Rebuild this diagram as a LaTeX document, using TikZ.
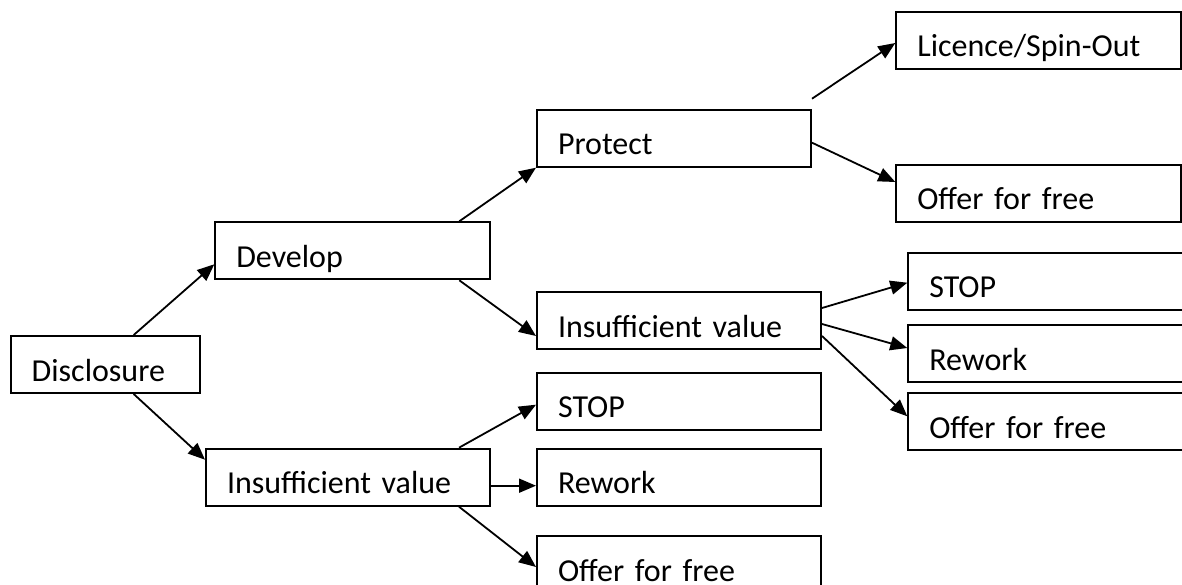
\documentclass[tikz,border=0pt]{standalone}
\usepackage{fontspec}
\setmainfont[WordSpace = 0.7]{Carlito}
\usetikzlibrary{arrows.meta}
\tikzset{box/.style = {draw, line width = 2pt, anchor = north west, align = left, inner xsep = 21pt, inner ysep = 0pt, text height = 45pt, text depth = 12pt, font = \fontsize{32}{38}\selectfont}}
\tikzset{arr/.style = {line width = 1.8pt, -{Triangle[length = 17pt, width = 14pt]}}}

\begin{document}
\begin{tikzpicture}[x = 1pt, y = -1pt]
      \clip (0, 0) rectangle (1182, 585);

      \node [box, text width = 147pt] (dis) at (9.7, 335) {Disclosure};
      \node [box, text width = 233pt] (dev) at (214.3, 221.3) {Develop};
      \node [box, text width = 242pt] (insB) at (205, 447.7) {Insufficient value};

      \node [box, text width = 232pt] (pro) at (536, 108.7) {Protect};
      \node [box, text width = 242pt] (insM) at (536, 291) {Insufficient value};
      \node [box, text width = 242pt] (stopB) at (536, 371.7) {STOP};
      \node [box, text width = 242pt] (rwB) at (536, 447.7) {Rework};
      \node [box, text width = 242pt] (offB) at (536, 535) {Offer for free};

      \node [box, text width = 243pt] (lic) at (895.3, 11) {Licence/Spin-Out};
      \node [box, text width = 243pt] (offT) at (895.3, 164) {Offer for free};
      \node [box, text width = 258pt] (stopR) at (907.3, 251.7) {STOP};
      \node [box, text width = 258pt] (rwR) at (907.3, 324) {Rework};
      \node [box, text width = 258pt] (offR) at (907.3, 392.3) {Offer for free};

      \coordinate (proTop) at ([yshift = 10pt]pro.north east);

      \draw [arr] ([xshift = 124pt]dis.north west) -- ([yshift = 16pt]dev.south west);
      \draw [arr] ([xshift = 124pt]dis.south west) -- ([yshift = -12pt]insB.north west);

      \draw [arr] ([xshift = -32pt]dev.north east) -- (pro.south west);
      \draw [arr] ([xshift = -32pt]dev.south east) -- ([yshift = 14pt]insM.south west);

      \draw [arr] (proTop) -- ([yshift = -32pt]lic.north west);
      \draw [arr] ([yshift = -34pt]pro.north east) -- ([yshift = -18pt]offT.north west);

      \draw [arr] ([yshift = -17pt]insM.north east) -- ([yshift = -31pt]stopR.north west);
      \draw [arr] ([yshift = -33pt]insM.north east) -- ([yshift = -24pt]rwR.north west);
      \draw [arr] ([yshift = -45pt]insM.north east) -- ([yshift = -24pt]offR.north west);

      \draw [arr] ([xshift = -32pt]insB.north east) -- ([yshift = -33pt]stopB.north west);
      \draw [arr] ([yshift = -38pt]insB.north east) -- ([yshift = -38pt]rwB.north west);
      \draw [arr] ([xshift = -32pt]insB.south east) -- ([yshift = -32pt]offB.north west);
    \end{tikzpicture}
\end{document}
